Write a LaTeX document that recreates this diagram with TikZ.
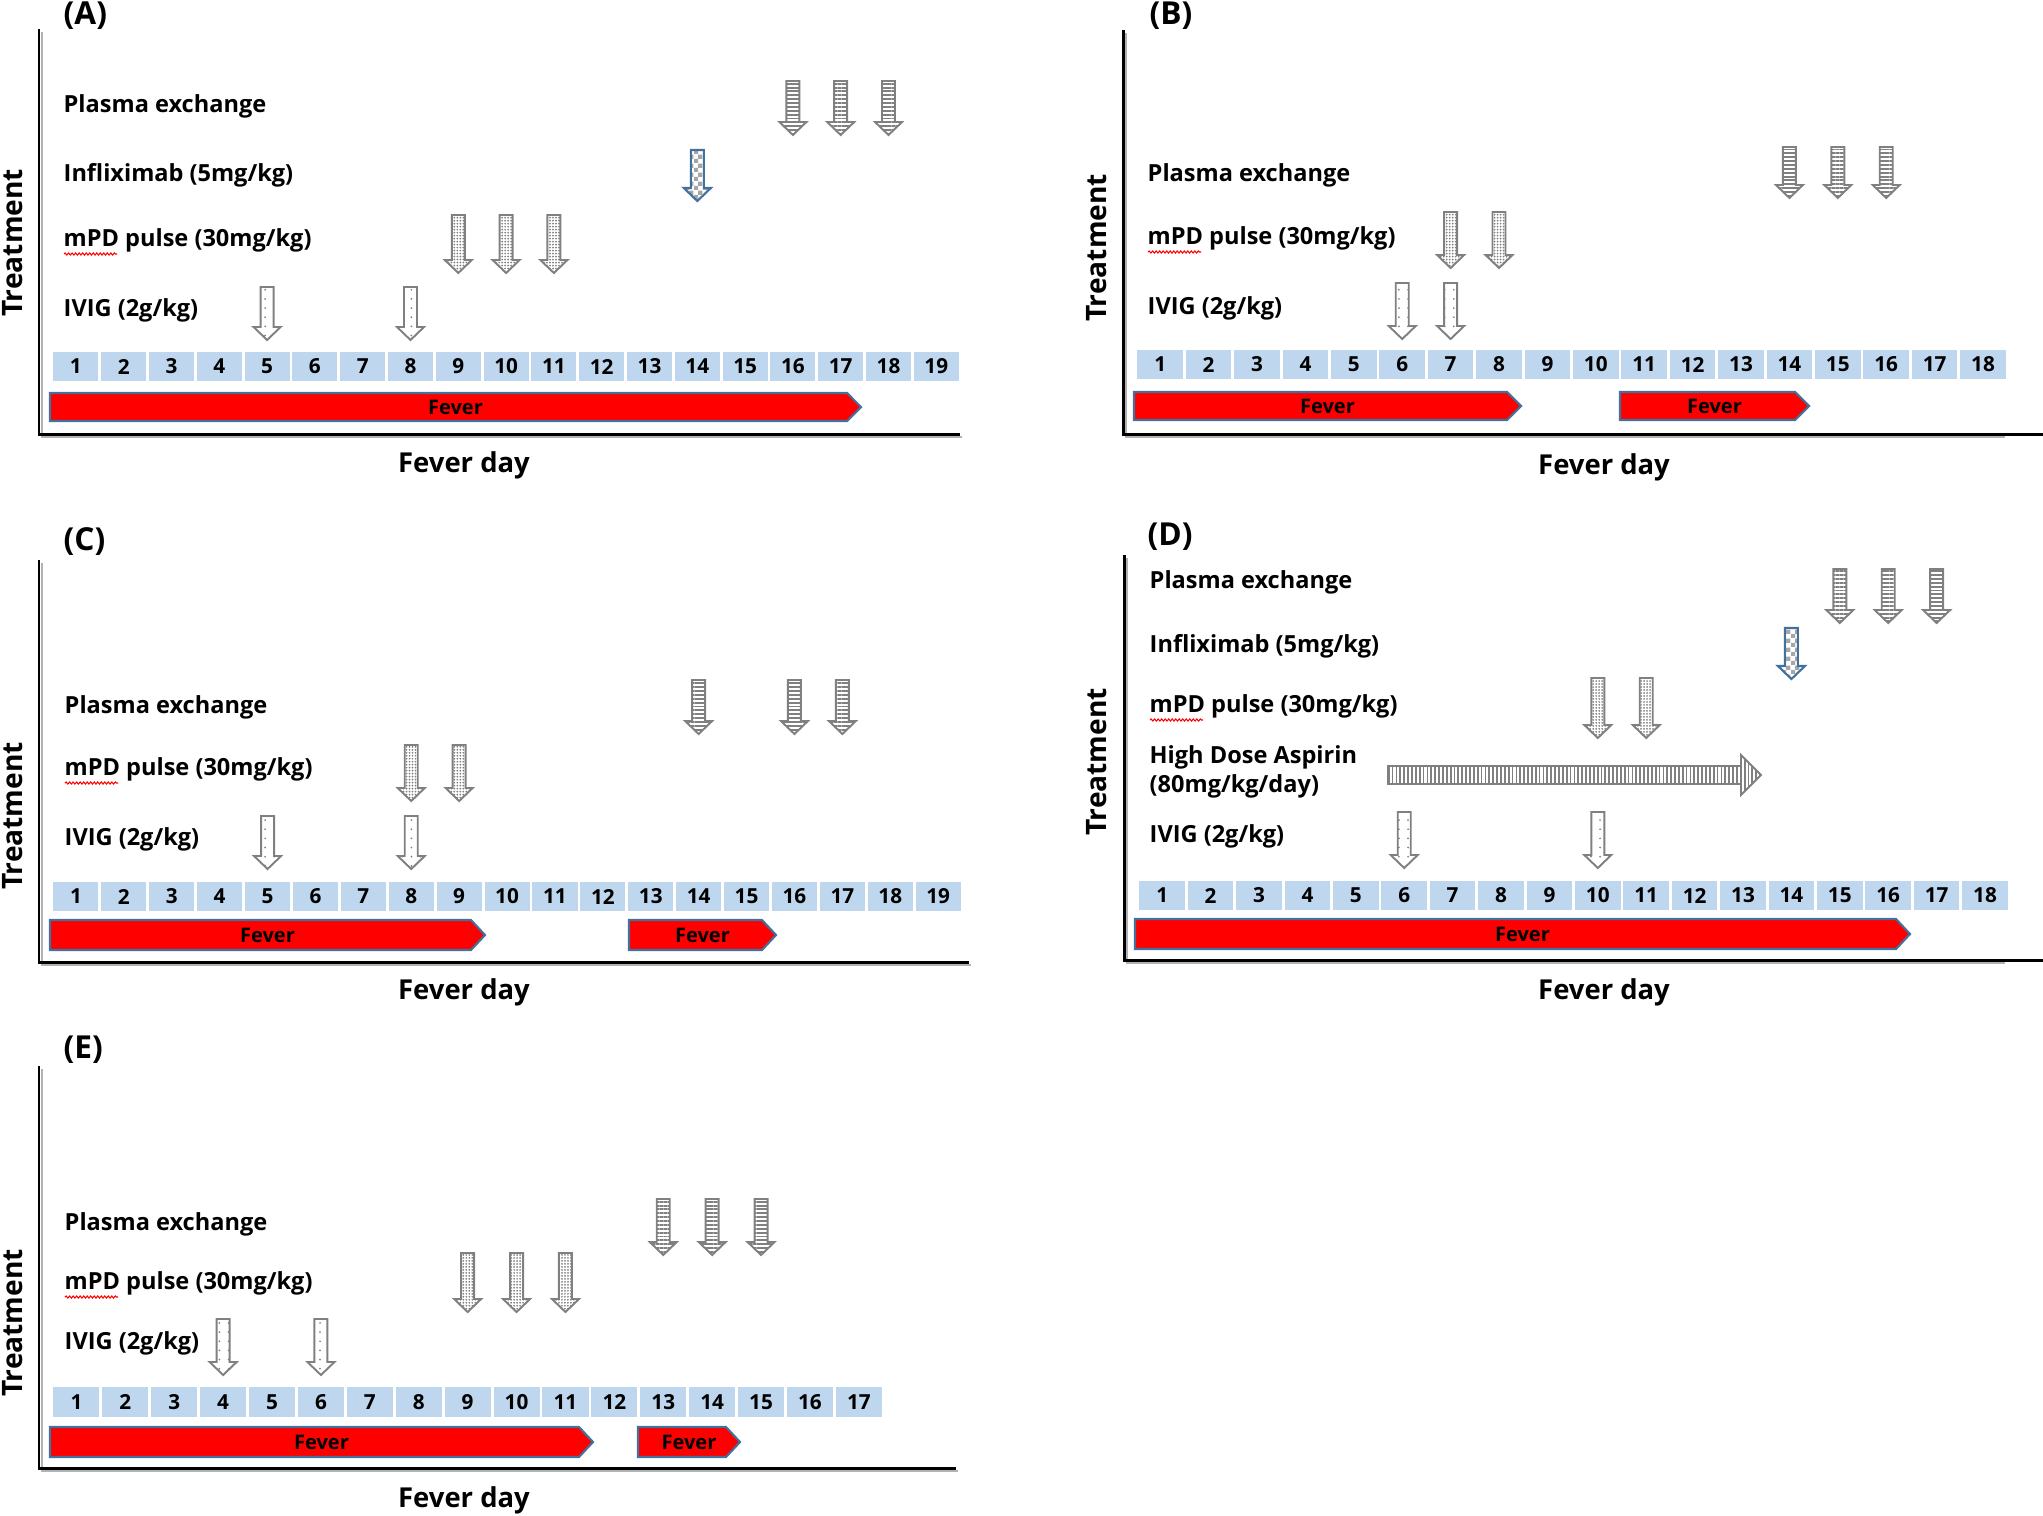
\documentclass[tikz,border=0pt]{standalone}
\usepackage{fontspec}
\setmainfont{Open Sans}
\usetikzlibrary{patterns,patterns.meta,decorations.pathmorphing}

\pgfdeclarepatternformonly{mychecker}{\pgfpointorigin}{\pgfqpoint{2.6pt}{2.6pt}}{\pgfqpoint{2.6pt}{2.6pt}}{%
 \pgfpathrectangle{\pgfpointorigin}{\pgfqpoint{1.3pt}{1.3pt}}%
 \pgfpathrectangle{\pgfqpoint{1.3pt}{1.3pt}}{\pgfqpoint{1.3pt}{1.3pt}}%
 \pgfusepath{fill}}

\definecolor{daybg}{RGB}{190,215,238}
\definecolor{fevred}{RGB}{255,0,0}
\definecolor{fevedge}{RGB}{65,113,156}
\definecolor{arrgray}{RGB}{128,128,128}

\tikzset{
 daycell/.style={fill=daybg, draw=white, line width=0.8pt},
 daynum/.style={font=\fontsize{5.9pt}{6pt}\selectfont\bfseries, inner sep=0pt},
 feverbar/.style={fill=fevred, draw=fevedge, line width=0.6pt},
 fevertxt/.style={font=\fontsize{5.7pt}{6pt}\selectfont\bfseries, inner sep=0pt},
 lbl/.style={anchor=west, font=\fontsize{6.7pt}{8.2pt}\selectfont\bfseries, inner sep=0pt, align=left, yshift=-0.025cm},
 paneltag/.style={anchor=west, font=\fontsize{9pt}{10pt}\selectfont\bfseries, inner sep=0pt},
 treat/.style={rotate=90, font=\fontsize{8pt}{9pt}\selectfont\bfseries, inner sep=0pt},
 fdaylbl/.style={font=\fontsize{7.8pt}{9pt}\selectfont\bfseries, inner sep=0pt, yshift=-0.025cm},
 axisline/.style={draw=black, line width=0.85pt},
 axshadow/.style={draw=gray!60, line width=0.6pt},
 pearrow/.style={draw=arrgray, line width=0.55pt, pattern={Lines[angle=0,distance=1.1pt,line width=0.55pt]}, pattern color=arrgray},
 mpdarrow/.style={draw=arrgray, line width=0.55pt, pattern={Dots[distance=0.85pt,radius=0.28pt]}, pattern color=gray},
 ivigarrow/.style={draw=arrgray, line width=0.55pt, pattern={Dots[distance=2.6pt,radius=0.28pt]}, pattern color=gray},
 infarrow/.style={draw=fevedge, line width=0.6pt, pattern=mychecker, pattern color=gray!70},
 asparrow/.style={draw=arrgray, line width=0.55pt, pattern={Lines[angle=90,distance=1.1pt,line width=0.5pt]}, pattern color=arrgray},
 spell/.style={draw=red, line width=0.3pt, decorate, decoration={snake, amplitude=0.3pt, segment length=1pt}},
}

% panel parameters: \PX (first day left edge), \PP (pitch)
\newcommand{\SetPanel}[2]{\def\PX{#1}\def\PP{#2}}
\newcommand{\TxArrow}[4]{%
 \pgfmathsetmacro{\ya}{#3-13}%
 \path[#4] (#1-6.5,#2) -- (#1+6.5,#2) -- (#1+6.5,\ya) -- (#1+13.5,\ya) -- (#1,#3) -- (#1-13.5,\ya) -- (#1-6.5,\ya) -- cycle;}
\newcommand{\DayArrow}[4]{\pgfmathsetmacro{\cx}{\PX+(#1-0.5)*\PP}\TxArrow{\cx}{#2}{#3}{#4}}
\newcommand{\DayRow}[4]{% n ytop ybot prefix
 \foreach \i in {1,...,#1}{%
  \pgfmathsetmacro{\xa}{\PX+(\i-1)*\PP}%
  \pgfmathsetmacro{\xb}{\PX+\i*\PP}%
  \path[daycell] (\xa,#2) rectangle (\xb,#3);
  \node[daynum] (#4d\i) at ({(\xa+\xb)/2},{(#2+#3)/2}) {\i};
 }}
\newcommand{\FeverBar}[5]{% xs xe ytop ybot name
 \pgfmathsetmacro{\xm}{#2-14}%
 \pgfmathsetmacro{\ym}{(#3+#4)/2}%
 \path[feverbar] (#1,#3) -- (\xm,#3) -- (#2,\ym) -- (\xm,#4) -- (#1,#4) -- cycle;
 \node[fevertxt] (#5) at ({(#1+#2)/2},\ym) {Fever};}

\begin{document}
\begin{tikzpicture}[x=0.01cm, y=-0.01cm]
\useasboundingbox (0,0) rectangle (2043,1515);

%================ Panel A
\SetPanel{52}{47.8}
\node[paneltag] (A_tag) at (63,16) {(A)};
\draw[axshadow] (42,32) -- (42,437) -- (962,437);
\draw[axisline] (39,29) -- (39,434) -- (960,434);
\node[treat] (A_treat) at (13,243) {Treatment};
\node[lbl] (A_pe) at (63,104) {Plasma exchange};
\node[lbl] (A_inf) at (63,173) {Infliximab (5mg/kg)};
\node[lbl] (A_mpd) at (63,238) {mPD pulse (30mg/kg)};
\node[lbl] (A_ivig) at (63,308) {IVIG (2g/kg)};
\path[spell] (64,254) -- (117,254);
\DayRow{19}{351}{382}{A}
\FeverBar{50}{861}{393}{421}{A_fever}
\foreach \d in {16,17,18}{\DayArrow{\d}{81}{135}{pearrow}}
\DayArrow{14}{150}{201}{infarrow}
\foreach \d in {9,10,11}{\DayArrow{\d}{215}{273}{mpdarrow}}
\foreach \d in {5,8}{\DayArrow{\d}{287}{340}{ivigarrow}}
\node[fdaylbl] (A_fday) at (464,463) {Fever day};

%================ Panel B
\SetPanel{1136}{48.4}
\node[paneltag] (B_tag) at (1149,16) {(B)};
\draw[axshadow] (1126,33) -- (1126,437) -- (2005,437);
\draw[axisline] (1123,30) -- (1123,434) -- (2043,434);
\node[treat] (B_treat) at (1097,248) {Treatment};
\node[lbl] (B_pe) at (1147,173) {Plasma exchange};
\node[lbl] (B_mpd) at (1147,236) {mPD pulse (30mg/kg)};
\node[lbl] (B_ivig) at (1147,306) {IVIG (2g/kg)};
\path[spell] (1148,252) -- (1201,252);
\DayRow{18}{349}{380}{B}
\FeverBar{1134}{1521}{392}{420}{B_fever1}
\FeverBar{1620}{1809}{392}{420}{B_fever2}
\foreach \d in {14,15,16}{\DayArrow{\d}{147}{198}{pearrow}}
\foreach \d in {7,8}{\DayArrow{\d}{212}{268}{mpdarrow}}
\foreach \d in {6,7}{\DayArrow{\d}{283}{339}{ivigarrow}}
\node[fdaylbl] (B_fday) at (1604,465) {Fever day};

%================ Panel C
\SetPanel{52}{47.9}
\node[paneltag] (C_tag) at (63,542) {(C)};
\draw[axshadow] (42,563) -- (42,965) -- (971,965);
\draw[axisline] (39,560) -- (39,962) -- (969,962);
\node[treat] (C_treat) at (13,816) {Treatment};
\node[lbl] (C_pe) at (64,705) {Plasma exchange};
\node[lbl] (C_mpd) at (64,767) {mPD pulse (30mg/kg)};
\node[lbl] (C_ivig) at (64,837) {IVIG (2g/kg)};
\path[spell] (65,783) -- (118,783);
\DayRow{19}{881}{912}{C}
\FeverBar{50}{485}{920}{950}{C_fever1}
\FeverBar{629}{776}{920}{950}{C_fever2}
\foreach \d in {14,16,17}{\DayArrow{\d}{680}{734}{pearrow}}
\foreach \d in {8,9}{\DayArrow{\d}{745}{801}{mpdarrow}}
\foreach \d in {5,8}{\DayArrow{\d}{816}{869}{ivigarrow}}
\node[fdaylbl] (C_fday) at (464,990) {Fever day};

%================ Panel D
\SetPanel{1138}{48.4}
\node[paneltag] (D_tag) at (1147,537) {(D)};
\draw[axshadow] (1127,558) -- (1127,963) -- (2005,963);
\draw[axisline] (1124,555) -- (1124,960) -- (2043,960);
\node[treat] (D_treat) at (1097,762) {Treatment};
\node[lbl] (D_pe) at (1149,580) {Plasma exchange};
\node[lbl] (D_inf) at (1149,644) {Infliximab (5mg/kg)};
\node[lbl] (D_mpd) at (1149,704) {mPD pulse (30mg/kg)};
\node[lbl] (D_asp) at (1149,769) {High Dose Aspirin\\(80mg/kg/day)};
\node[lbl] (D_ivig) at (1149,834) {IVIG (2g/kg)};
\path[spell] (1150,720) -- (1203,720);
\DayRow{18}{880}{911}{D}
\FeverBar{1135}{1910}{919}{949}{D_fever}
\foreach \d in {15,16,17}{\DayArrow{\d}{569}{623}{pearrow}}
\DayArrow{14}{628}{679}{infarrow}
\foreach \d in {10,11}{\DayArrow{\d}{678}{738}{mpdarrow}}
\foreach \d in {6,10}{\DayArrow{\d}{812}{868}{ivigarrow}}
\path[asparrow] (1388,766) -- (1741,766) -- (1741,755) -- (1761,775) -- (1741,795) -- (1741,784) -- (1388,784) -- cycle;
\node[fdaylbl] (D_fday) at (1604,990) {Fever day};

%================ Panel E
\SetPanel{52}{48.9}
\node[paneltag] (E_tag) at (63,1050) {(E)};
\draw[axshadow] (42,1069) -- (42,1471) -- (958,1471);
\draw[axisline] (39,1066) -- (39,1468) -- (956,1468);
\node[treat] (E_treat) at (13,1323) {Treatment};
\node[lbl] (E_pe) at (64,1222) {Plasma exchange};
\node[lbl] (E_mpd) at (64,1281) {mPD pulse (30mg/kg)};
\node[lbl] (E_ivig) at (64,1341) {IVIG (2g/kg)};
\path[spell] (65,1297) -- (118,1297);
\DayRow{17}{1386}{1418}{E}
\FeverBar{50}{593}{1427}{1457}{E_fever1}
\FeverBar{638}{740}{1427}{1457}{E_fever2}
\foreach \d in {13,14,15}{\DayArrow{\d}{1199}{1255}{pearrow}}
\foreach \d in {9,10,11}{\DayArrow{\d}{1253}{1312}{mpdarrow}}
\foreach \d in {4,6}{\DayArrow{\d}{1319}{1375}{ivigarrow}}
\node[fdaylbl] (E_fday) at (464,1498) {Fever day};
\end{tikzpicture}
\end{document}
